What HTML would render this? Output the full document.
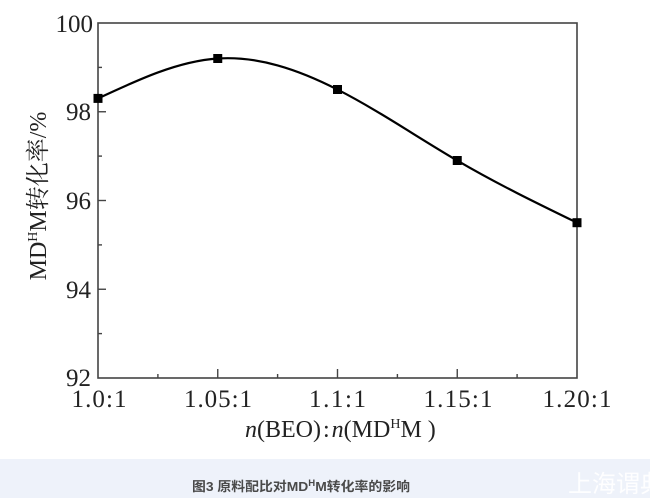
<!DOCTYPE html>
<html><head><meta charset="utf-8"><style>
html,body{margin:0;padding:0;background:#fff;}
body{width:650px;height:498px;overflow:hidden;position:relative;}
svg{position:absolute;left:0;top:0;}
</style></head><body>
<svg width="650" height="498" viewBox="0 0 650 498" xmlns="http://www.w3.org/2000/svg">
<rect x="0" y="0" width="650" height="459" fill="#ffffff"/>
<rect x="0" y="459" width="650" height="39" fill="#eef2fa"/>
<!-- frame -->
<rect x="98" y="23" width="479" height="355" fill="none" stroke="#444" stroke-width="1.6"/>
<!-- y ticks -->
<g stroke="#444" stroke-width="1.4">
<line x1="98" y1="111.75" x2="106" y2="111.75"/>
<line x1="98" y1="200.5" x2="106" y2="200.5"/>
<line x1="98" y1="289.25" x2="106" y2="289.25"/>
<line x1="98" y1="67.4" x2="102" y2="67.4"/>
<line x1="98" y1="156.1" x2="102" y2="156.1"/>
<line x1="98" y1="244.9" x2="102" y2="244.9"/>
<line x1="98" y1="333.6" x2="102" y2="333.6"/>
<!-- x ticks -->
<line x1="217.75" y1="378" x2="217.75" y2="369"/>
<line x1="337.5" y1="378" x2="337.5" y2="369"/>
<line x1="457.25" y1="378" x2="457.25" y2="369"/>
<line x1="157.9" y1="378" x2="157.9" y2="374"/>
<line x1="277.6" y1="378" x2="277.6" y2="374"/>
<line x1="397.4" y1="378" x2="397.4" y2="374"/>
<line x1="517.1" y1="378" x2="517.1" y2="374"/>
</g>
<!-- y tick labels -->
<g font-family="Liberation Serif, serif" font-size="25" fill="#222" text-anchor="end">
<text x="93" y="32">100</text>
<text x="91" y="120">98</text>
<text x="91" y="209">96</text>
<text x="91" y="298">94</text>
<text x="91" y="386">92</text>
</g>
<!-- x tick labels -->
<g font-family="Liberation Serif, serif" font-size="25" fill="#222" text-anchor="middle">
<text x="99" y="407" textLength="55" lengthAdjust="spacing">1.0:1</text>
<text x="218" y="407" textLength="68" lengthAdjust="spacing">1.05:1</text>
<text x="337.5" y="407" textLength="57" lengthAdjust="spacing">1.1:1</text>
<text x="458" y="407" textLength="69" lengthAdjust="spacing">1.15:1</text>
<text x="577" y="407" textLength="69" lengthAdjust="spacing">1.20:1</text>
</g>
<!-- x axis title -->
<text x="245" y="437" font-family="Liberation Serif, serif" font-size="24" fill="#222"><tspan font-style="italic">n</tspan>(BEO)<tspan dx="2">:</tspan><tspan dx="2" font-style="italic">n</tspan>(MD<tspan font-size="14" dy="-9">H</tspan><tspan dy="9">M )</tspan></text>
<!-- y axis title -->
<text transform="translate(46,196) rotate(-90)" text-anchor="middle" font-family="Liberation Serif, 'Noto Serif CJK SC', serif" font-size="24" fill="#222">MD<tspan font-size="14" dy="-9">H</tspan><tspan dy="9">M转化率/%</tspan></text>
<!-- curve -->
<path d="M98,98.44 C137.92,79.80 177.83,61.14 217.75,58.5 C257.67,55.86 297.58,69.23 337.5,89.56 C377.42,109.90 417.33,137.21 457.25,160.56 C497.17,183.91 537.08,203.30 577,222.69" fill="none" stroke="#000" stroke-width="2.2"/>
<!-- markers -->
<g fill="#000">
<rect x="93.5" y="93.9" width="9" height="9"/>
<rect x="213.25" y="54" width="9" height="9"/>
<rect x="333" y="85" width="9" height="9"/>
<rect x="452.75" y="156" width="9" height="9"/>
<rect x="572.5" y="218.2" width="9" height="9"/>
</g>
<!-- caption -->
<text x="192" y="491" font-family="Liberation Sans, 'Noto Sans CJK SC', sans-serif" font-size="13" font-weight="bold" fill="#4a4a4a" textLength="218" lengthAdjust="spacingAndGlyphs">图3 原料配比对MD<tspan font-size="9" dy="-5">H</tspan><tspan dy="5">M转化率的影响</tspan></text>
<!-- watermark -->
<text x="568" y="492" font-family="'Noto Sans CJK SC', sans-serif" font-size="24" fill="#ffffff" fill-opacity="0.9">上海谓典</text>
</svg>
</body></html>
